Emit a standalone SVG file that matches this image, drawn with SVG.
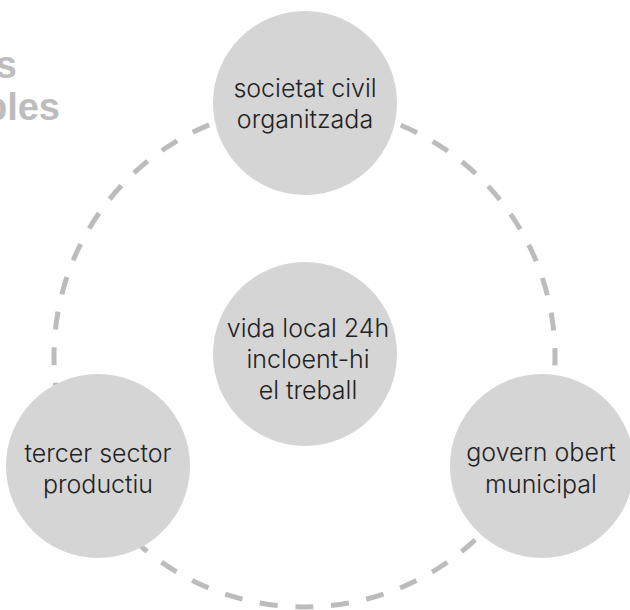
<svg xmlns="http://www.w3.org/2000/svg" width="630" height="610" viewBox="0 0 630 610">
<style>
.node{fill:#d6d5d6}
.lbl{font-family:Inter,"Liberation Sans",sans-serif;font-weight:300;font-size:25px;fill:#222;text-anchor:middle}
.ttl{font-family:"Liberation Sans",Arial,sans-serif;font-weight:bold;font-size:38px;fill:#bdbdbd;text-anchor:end}
</style>
<rect width="630" height="610" fill="#fff"/>
<g id="title">
<text class="ttl" x="17" y="78">s</text>
<text class="ttl" x="60" y="120">bles</text>
</g>
<g id="connectors">
<circle cx="304.5" cy="356.5" r="250.5" fill="none" stroke="#bdbcbc" stroke-width="5" stroke-dasharray="18 17.77" stroke-dashoffset="8.97"/>
</g>
<g id="node-societat">
<circle class="node" cx="305" cy="103" r="92"/>
<text class="lbl" x="305" y="97">societat civil</text>
<text class="lbl" x="305" y="128">organitzada</text>
</g>
<g id="node-vida">
<circle class="node" cx="305" cy="354" r="92"/>
<text class="lbl" x="308" y="337">vida local 24h</text>
<text class="lbl" x="308" y="368">incloent-hi</text>
<text class="lbl" x="308" y="399">el treball</text>
</g>
<g id="node-tercer">
<circle class="node" cx="98" cy="466" r="92"/>
<text class="lbl" x="98" y="462">tercer sector</text>
<text class="lbl" x="98" y="493">productiu</text>
</g>
<g id="node-govern">
<circle class="node" cx="542" cy="466" r="92"/>
<text class="lbl" x="541" y="461">govern obert</text>
<text class="lbl" x="541" y="493">municipal</text>
</g>
</svg>
